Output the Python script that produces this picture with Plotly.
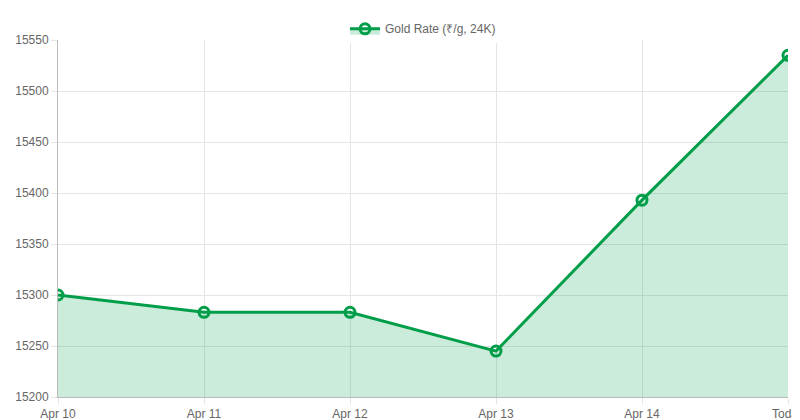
import plotly.graph_objects as go

labels = ["Apr 10", "Apr 11", "Apr 12", "Apr 13", "Apr 14", "Today"]
values = [15300, 15283, 15283, 15245, 15393, 15535]
series_name = "Gold Rate (₹/g, 24K)"

fig = go.Figure()
fig.add_trace(go.Scatter(
    x=labels, y=values, name=series_name, mode="lines+markers",
    line=dict(color="#009e49", width=3),
    marker=dict(size=10, color="rgba(255,255,255,0)", line=dict(color="#009e49", width=3)),
    fill="tozeroy", fillcolor="rgba(0,158,73,0.2)",
))
fig.update_layout(
    width=800, height=420, margin=dict(l=50, r=20, t=32, b=31, autoexpand=False),
    paper_bgcolor="white", plot_bgcolor="white",
    font=dict(family="Liberation Sans, Arial", size=12, color="#666"),
    showlegend=True,
    legend=dict(orientation="h", x=0.5, xanchor="center", yref="container", y=0.985,
                yanchor="top", font=dict(size=12, color="#666")),
    xaxis=dict(showgrid=True, gridcolor="#e5e5e5", linecolor="#bbb", showline=True,
               ticks="outside", ticklen=6, tickcolor="#e5e5e5", range=[0, 5],
               zeroline=False, automargin=False),
    yaxis=dict(range=[15200, 15550], dtick=50, showgrid=True, gridcolor="#e5e5e5",
               linecolor="#bbb", showline=True, tickformat="d", zeroline=False,
               ticks="outside", ticklen=6, tickcolor="#e5e5e5", automargin=False),
)
fig.write_html("out.html")
